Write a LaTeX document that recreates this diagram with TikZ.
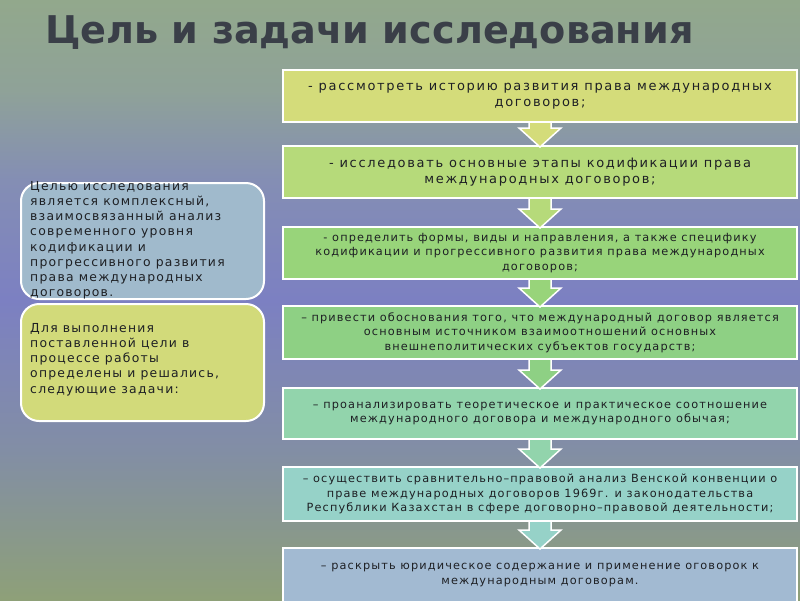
\documentclass[tikz,border=0pt]{standalone}
\usepackage{fontspec}
\setmainfont{DejaVu Sans}
\newfontfamily\bodyfont[LetterSpace=10]{DejaVu Sans}
\newfontfamily\bigfont[LetterSpace=13]{DejaVu Sans}
\newfontfamily\titlefont{DejaVu Sans}
\usetikzlibrary{calc}
\definecolor{bgA}{RGB}{146,168,140}
\definecolor{bgA2}{RGB}{143,162,152}
\definecolor{bgB}{RGB}{132,142,180}
\definecolor{bgC}{RGB}{124,128,194}
\definecolor{bgD}{RGB}{130,142,165}
\definecolor{bgE}{RGB}{142,160,120}
\definecolor{titlec}{RGB}{58,63,72}
\definecolor{textc}{RGB}{30,32,36}
\definecolor{cI}{RGB}{212,220,122}
\definecolor{cII}{RGB}{182,218,122}
\definecolor{cIII}{RGB}{152,212,122}
\definecolor{cIV}{RGB}{142,208,132}
\definecolor{cV}{RGB}{146,212,172}
\definecolor{cVI}{RGB}{150,210,200}
\definecolor{cVII}{RGB}{162,186,210}
\definecolor{lA}{RGB}{160,186,204}
\definecolor{lB}{RGB}{210,218,122}
\pgfdeclareverticalshading{bgshade}{100bp}{color(0bp)=(bgE); color(25bp)=(bgE); color(37.5bp)=(bgD); color(50bp)=(bgC); color(60bp)=(bgB); color(67.5bp)=(bgA2); color(75bp)=(bgA); color(100bp)=(bgA)}
\tikzset{
  rbox/.style={draw=white, line width=2pt, minimum width=514pt, inner sep=0pt, align=center, anchor=north west, text=textc},
  bigtxt/.style={font=\bigfont\fontsize{13}{16}\selectfont},
  smalltxt/.style={font=\bodyfont\fontsize{11.3}{14.5}\selectfont},
  lbox/.style={draw=white, line width=2pt, rounded corners=18pt, minimum width=243pt, inner sep=0pt, anchor=north west},
  ltxt/.style={font=\bodyfont\fontsize{12.4}{15.2}\selectfont, align=left, anchor=north west, inner sep=0pt, text=textc},
  blockarr/.style={draw=white, line width=1.5pt, line join=miter}
}
\newcommand\myblockarrow[3]{%
  \filldraw[blockarr, fill=#3] ($(#1.south)+(-11,0)$) -- ($(#2.north)+(-11,-17)$) -- ($(#2.north)+(-21,-17)$) -- ($(#2.north)+(0,2)$) -- ($(#2.north)+(21,-17)$) -- ($(#2.north)+(11,-17)$) -- ($(#1.south)+(11,0)$);}
\begin{document}
\begin{tikzpicture}[x=1pt,y=-1pt]
\useasboundingbox (0,0) rectangle (800,600);
\shade[shading=bgshade] (0,0) rectangle (800,600);
\node[anchor=base west, inner sep=0pt, text=titlec, font=\titlefont\bfseries\fontsize{38.2}{40}\selectfont] (title) at (45,43) {Цель и задачи исследования};
% right boxes
\node[rbox, bigtxt, fill=cI, minimum height=52pt] (b1) at (282,69) {- рассмотреть историю развития права международных\\ договоров;};
\node[rbox, bigtxt, fill=cII, minimum height=52pt] (b2) at (282,145) {- исследовать основные этапы кодификации права\\ международных договоров;};
\node[rbox, smalltxt, fill=cIII, minimum height=52pt] (b3) at (282,226) {- определить формы, виды и направления, а также специфику\\ кодификации и прогрессивного развития права международных\\ договоров;};
\node[rbox, smalltxt, fill=cIV, minimum height=53pt] (b4) at (282,305) {– привести обоснования того, что международный договор является\\ основным источником взаимоотношений основных\\ внешнеполитических субъектов государств;};
\node[rbox, smalltxt, fill=cV, minimum height=51pt] (b5) at (282,387) {– проанализировать теоретическое и практическое соотношение\\ международного договора и международного обычая;};
\node[rbox, smalltxt, fill=cVI, minimum height=54pt] (b6) at (282,466) {– осуществить сравнительно–правовой анализ Венской конвенции о\\ праве международных договоров 1969г. и законодательства\\ Республики Казахстан в сфере договорно–правовой деятельности;};
\node[rbox, smalltxt, fill=cVII, minimum height=54pt] (b7) at (282,547) {– раскрыть юридическое содержание и применение оговорок к\\ международным договорам.};
\myblockarrow{b1}{b2}{cI}
\myblockarrow{b2}{b3}{cII}
\myblockarrow{b3}{b4}{cIII}
\myblockarrow{b4}{b5}{cIV}
\myblockarrow{b5}{b6}{cV}
\myblockarrow{b6}{b7}{cVI}
% left boxes
\node[lbox, fill=lA, minimum height=116pt] (ga) at (20,182) {};
\node[lbox, fill=lB, minimum height=117pt] (gb) at (20,303) {};
\node[ltxt] (gat) at (30,181) {Целью исследования\\ является комплексный,\\ взаимосвязанный анализ\\ современного уровня\\ кодификации и\\ прогрессивного развития\\ права международных\\ договоров.};
\node[ltxt] (gbt) at (30,323) {Для выполнения\\ поставленной цели в\\ процессе работы\\ определены и решались,\\ следующие задачи:};
\end{tikzpicture}
\end{document}
